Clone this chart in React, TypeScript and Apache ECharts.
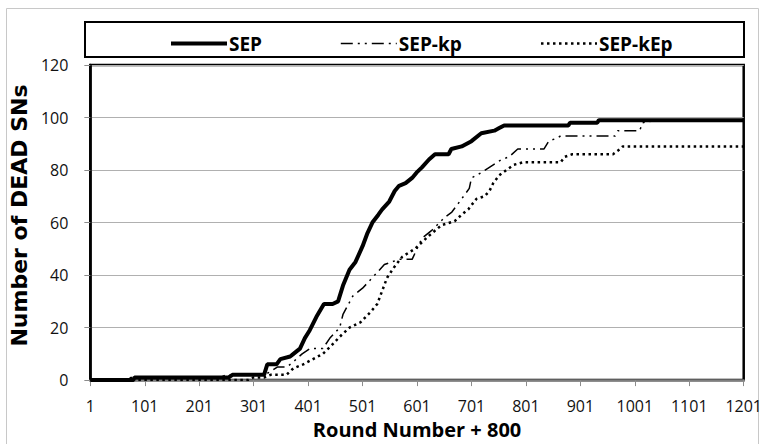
import React, { useEffect, useRef } from "react";
import * as echarts from "echarts";

// Rounds are stored as (round - 1) so ticks fall on multiples of 100; labels add 1 back.
const xTicksLabelOffset = 1;
const yMax = 120;

const sepData: [number, number][] = [
  [1, 0], [80, 0], [82, 1], [255, 1], [262, 2], [320, 2], [326, 6], [343, 6], [350, 8], [368, 9],
  [374, 10], [386, 12], [395, 16], [404, 19], [416, 24], [430, 29], [446, 29], [456, 30], [465, 36],
  [477, 42], [488, 45], [501, 51], [510, 56], [519, 60], [530, 63], [537, 65], [550, 68], [560, 72],
  [568, 74], [580, 75], [592, 77], [600, 79], [610, 81], [623, 84], [634, 86], [659, 86], [664, 88],
  [683, 89], [701, 91], [719, 94], [743, 95], [752, 96], [761, 97], [879, 97], [882, 98], [932, 98],
  [935, 99], [1201, 99],
];

const kpData: [number, number][] = [
  [1, 0], [70, 0], [75, 1], [240, 1], [250, 2], [320, 2], [330, 3], [345, 5], [362, 5], [374, 7],
  [390, 10], [404, 12], [428, 12], [441, 16], [459, 20], [465, 25], [483, 32], [501, 35], [519, 39],
  [541, 44], [568, 46], [592, 46], [610, 54], [628, 57], [652, 62], [665, 64], [683, 69], [697, 73],
  [701, 77], [719, 79], [741, 82], [756, 84], [770, 85], [786, 88], [834, 88], [843, 91], [856, 92],
  [865, 93], [965, 93], [970, 95], [1010, 95], [1015, 98], [1040, 99], [1201, 99],
];

const kEpData: [number, number][] = [
  [1, 0], [290, 0], [300, 1], [320, 1], [332, 2], [361, 2], [374, 4.5], [392, 6], [410, 8], [428, 10],
  [443, 13], [459, 16.5], [477, 20], [497, 22], [516, 26], [528, 29], [537, 34], [546, 39], [559, 43],
  [574, 47], [597, 50], [623, 55], [646, 59], [670, 60.5], [683, 63], [695, 65], [710, 69], [725, 70],
  [734, 72], [741, 75], [752, 78], [765, 80], [779, 82], [797, 83], [865, 83], [872, 85], [886, 86],
  [961, 86], [974, 88], [979, 89], [1201, 89],
];

const seriesNames = ["SEP", "SEP-kp", "SEP-kEp"];

const shift = (d: [number, number][]) => d.map(([r, v]) => [r - xTicksLabelOffset, v]);

const FONT = "'Open Sans', 'Noto Sans', sans-serif";
const TITLE_FONT = "'DejaVu Sans', 'Open Sans', sans-serif";

const lineStyles = [
  { color: "#000", width: 4, type: "solid" as any },
  { color: "#000", width: 1.5, type: [12, 5, 2, 5, 2, 5] as any },
  { color: "#000", width: 2.5, type: [2.5, 3.5] as any },
];

export default function App() {
  const ref = useRef<HTMLDivElement>(null);
  useEffect(() => {
    if (!ref.current) return;
    const chart = echarts.init(ref.current, undefined, { renderer: "svg" });
    chart.setOption({
      animation: false,
      backgroundColor: "#fff",
      textStyle: { fontFamily: FONT },
      graphic: [
        {
          type: "rect",
          shape: { x: 6.5, y: 8.5, width: 752, height: 445 },
          style: { fill: "none", stroke: "#c8c8c8", lineWidth: 1 },
          z: 0,
        },
        {
          type: "rect",
          shape: { x: 85, y: 22, width: 659, height: 35 },
          style: { fill: "none", stroke: "#000", lineWidth: 2 },
          z: 10,
        },
      ],
      legend: {
        data: seriesNames.map((name, i) => ({ name, lineStyle: { ...lineStyles[i] } })),
        left: 164,
        top: 29,
        itemWidth: 56,
        itemHeight: 20,
        itemGap: 78,
        itemStyle: { opacity: 0 },
        textStyle: { fontFamily: FONT, fontWeight: "bold", fontSize: 19, color: "#000", padding: [0, 0, 0, -3] },
      },
      grid: {
        left: 85,
        right: 20,
        top: 65,
        bottom: 60,
        show: true,
        borderColor: "#000",
        borderWidth: 2.5,
        containLabel: false,
      },
      xAxis: {
        type: "value",
        min: 0,
        max: 1200,
        interval: 100,
        name: "Round Number + 800",
        nameLocation: "middle",
        nameGap: 38,
        nameTextStyle: { fontFamily: FONT, fontWeight: "bold", fontSize: 20, color: "#000" },
        axisLine: { show: true, onZero: false, lineStyle: { color: "#7f7f7f", width: 2.5 } },
        axisTick: { show: true, inside: false, length: 6, lineStyle: { color: "#8c8c8c" } },
        axisLabel: {
          fontFamily: FONT,
          fontSize: 16,
          color: "#111",
          margin: 18,
          formatter: (v: number) => String(v + xTicksLabelOffset),
        },
        splitLine: { show: false },
      },
      yAxis: {
        type: "value",
        min: 0,
        max: yMax,
        interval: 20,
        name: "Number of DEAD SNs",
        nameLocation: "middle",
        nameGap: 44,
        nameTextStyle: {
          fontFamily: TITLE_FONT,
          fontWeight: "bold",
          fontSize: 22,
          color: "#000",
          padding: [0, 0, 0, 14],
        },
        axisLine: { show: true, lineStyle: { color: "#000", width: 2.5 } },
        axisTick: { show: true, inside: false, length: 6, lineStyle: { color: "#8c8c8c" } },
        axisLabel: { fontFamily: FONT, fontSize: 16, color: "#111", margin: 22 },
        splitLine: { show: true, lineStyle: { color: "#b0b0b0", width: 1 } },
      },
      series: [
        {
          name: seriesNames[0],
          type: "line",
          data: shift(sepData),
          symbol: "none",
          lineStyle: lineStyles[0],
          itemStyle: { color: "#000" },
          z: 5,
        },
        {
          name: seriesNames[1],
          type: "line",
          data: shift(kpData),
          symbol: "none",
          lineStyle: lineStyles[1],
          itemStyle: { color: "#000" },
          z: 4,
        },
        {
          name: seriesNames[2],
          type: "line",
          data: shift(kEpData),
          symbol: "none",
          lineStyle: lineStyles[2],
          itemStyle: { color: "#000" },
          z: 3,
        },
      ],
    });
    return () => chart.dispose();
  }, []);
  return (
    <div
      ref={ref}
      style={{ position: "fixed", left: 0, top: 0, width: 765, height: 444 }}
    />
  );
}
